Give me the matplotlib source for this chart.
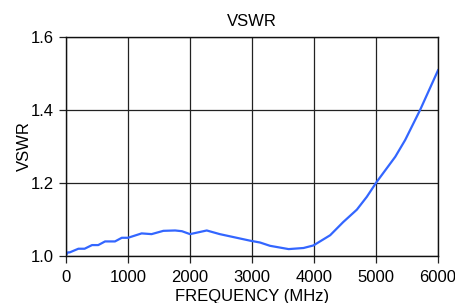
import matplotlib
matplotlib.use("Agg")
import matplotlib.pyplot as plt

# values
freq_mhz = [0, 30, 60, 200, 300, 420, 520, 630, 790, 900, 1000, 1220, 1380,
            1570, 1760, 1870, 2000, 2270, 2480, 2970, 3130, 3290, 3590, 3830,
            3990, 4260, 4470, 4690, 4850, 5010, 5310, 5470, 5710, 6000]
vswr = [1.002, 1.01, 1.01, 1.02, 1.02, 1.03, 1.03, 1.04, 1.04, 1.05, 1.05,
        1.062, 1.06, 1.069, 1.07, 1.068, 1.06, 1.07, 1.06, 1.042, 1.037,
        1.028, 1.019, 1.022, 1.029, 1.057, 1.093, 1.127, 1.162, 1.203,
        1.272, 1.318, 1.40, 1.509]
xticks = [0, 1000, 2000, 3000, 4000, 5000, 6000]
yticks = [1.0, 1.2, 1.4, 1.6]

plt.rcParams.update({"font.family": ["Liberation Sans", "DejaVu Sans"],
                     "font.size": 12})

fig = plt.figure(figsize=(4.56, 3.03), dpi=100)
ax = fig.add_axes([0.1447, 0.155, 0.816, 0.723])
ax.plot(freq_mhz, vswr, color="#3366ff", lw=1.6)
ax.set_xlim(0, 6000)
ax.set_ylim(1.0, 1.6)
ax.set_xticks(xticks)
ax.set_yticks(yticks)
ax.set_yticklabels([f"{v:.1f}" for v in yticks])
ax.grid(True, color="#222222", lw=0.9)
ax.tick_params(direction="out", length=5, width=0.9, color="#222222",
               labelsize=12)
ax.tick_params(axis="x", pad=5)
ax.tick_params(axis="y", pad=4)
for s in ax.spines.values():
    s.set_color("#111111")
    s.set_linewidth(1.0)
ax.set_title("VSWR", fontsize=12, pad=8)
ax.set_xlabel("FREQUENCY (MHz)", fontsize=12, va="center")
ax.xaxis.set_label_coords(0.5, -0.185)
ax.set_ylabel("VSWR", fontsize=12, labelpad=-1)

fig.savefig("out.png", dpi=100)
